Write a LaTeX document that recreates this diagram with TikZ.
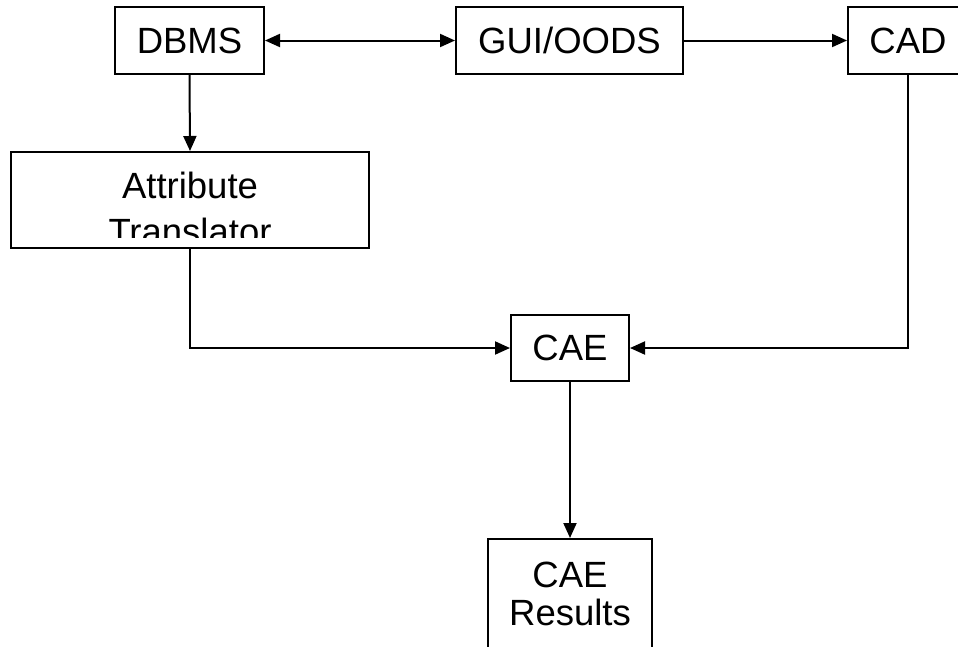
\documentclass[tikz,border=0pt]{standalone}
\usepackage{fontspec}
\setmainfont{Liberation Sans}
\usetikzlibrary{arrows.meta}
\begin{document}
\begin{tikzpicture}[x=1pt,y=-1pt,
  box/.style={draw, line width=2pt, rectangle, inner sep=0pt, align=center,
    font=\fontsize{36.5}{38}\selectfont},
  link/.style={line width=2pt, -{Triangle[length=15pt,width=13pt]}},
  blink/.style={line width=2pt, {Triangle[length=15pt,width=13pt]}-{Triangle[length=15pt,width=13pt]}}]
\clip (0,0) rectangle (958,646);
\useasboundingbox (0,0) rectangle (958,646);

% top row
\node[box, minimum width=149pt, minimum height=67pt] (dbms) at (189.5,40.5) {DBMS};
\node[box, minimum width=227pt, minimum height=67pt] (gui) at (569.5,40.5) {GUI/OODS};
\node[box, minimum width=120pt, minimum height=67pt] (cad) at (908,40.5) {CAD};

% translator box, its second text line cut off by the frame
\node[box, minimum width=358pt, minimum height=96pt] (attr) at (190,200) {};
\begin{scope}
  \clip (12,153) rectangle (368,237);
  \node[align=center, inner sep=0pt, font=\fontsize{36.5}{46}\selectfont] (attrtext) at (190,208.5) {Attribute\\Translator};
\end{scope}

% lower boxes
\node[box, minimum width=118pt, minimum height=66pt] (cae) at (570,348) {CAE};
\node[box, minimum width=164pt, minimum height=110pt] (res) at (570,594) {CAE\\Results};

% connectors
\draw[blink] (dbms.east) -- (gui.west);
\draw[link] (gui.east) -- (cad.west);
\draw[link] (dbms.south) -- (attr.north);
\draw[link] (attr.south) |- (cae.west);
\draw[link] (cad.south) |- (cae.east);
\draw[link] (cae.south) -- (res.north);
\end{tikzpicture}
\end{document}
